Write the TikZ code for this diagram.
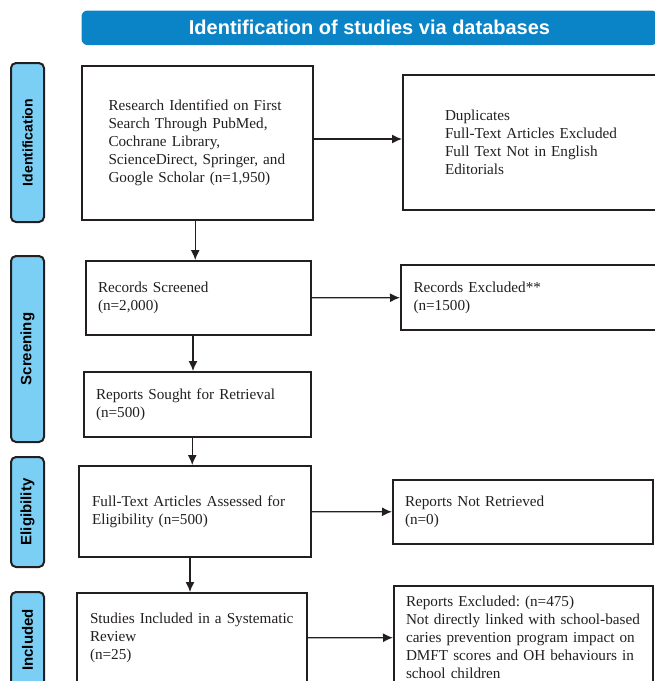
\documentclass[tikz,border=0pt]{standalone}
\usepackage{fontspec}
\setmainfont{Liberation Serif}
\newfontfamily\headfont{Liberation Sans}
\usetikzlibrary{arrows.meta}
\pgfdeclarelayer{bg}
\pgfsetlayers{bg,main}
\definecolor{hdrblue}{RGB}{10,132,198}
\definecolor{tabblue}{RGB}{123,207,244}
\definecolor{ink}{RGB}{35,31,32}
\frenchspacing
\tikzset{
  box/.style={draw=ink, line width=2pt, text=ink, align=left, inner ysep=0pt,
    font=\fontsize{15.2}{18}\selectfont},
  tab/.style={draw=ink, fill=tabblue, line width=2pt, rounded corners=5pt,
    rotate=90, minimum height=33pt, inner sep=0pt,
    font=\headfont\bfseries\fontsize{15}{18}\selectfont},
  arr/.style={line width=1.3pt, draw=ink, -{Latex[length=10pt,width=9pt]}}
}
\begin{document}
\begin{tikzpicture}[x=1pt, y=-1pt]
        \useasboundingbox (0,0) rectangle (655,681);
        \node (hdr) [fill=hdrblue, rounded corners=6pt, minimum width=576pt, minimum height=34.5pt, text=white, font=\headfont\bfseries\fontsize{20}{24}\selectfont] at (369.5, 27.75) {Identification of studies via databases};
        % phase tabs
        \node (tident) [tab, minimum width=159pt, font=\headfont\bfseries\fontsize{14}{18}\selectfont] at (27.5, 142.5) {Identification};
        \node (tscreen) [tab, minimum width=186pt] at (27.5, 349) {Screening};
        \node (telig) [tab, minimum width=110pt] at (27.5, 512) {Eligibility};
        \node (tincl) [tab, minimum width=96pt] at (27.5, 640) {Included};
        % main column
        \node (b1) [box, minimum width=231.5pt, minimum height=154pt, inner xsep=27pt, text width=177.5pt] at (197.25, 143) {Research Identified on First\\Search Through PubMed,\\Cochrane Library,\\ScienceDirect, Springer, and\\Google Scholar (n=1,950)};
        \node (b2) [box, minimum width=225pt, minimum height=74pt, inner xsep=12pt, text width=201pt] at (198.5, 298) {Records Screened\\(n=2,000)};
        \node (b3) [box, minimum width=227.5pt, minimum height=65pt, inner xsep=12.5pt, text width=202.5pt] at (197.25, 404.5) {Reports Sought for Retrieval\\(n=500)};
        \node (b4) [box, minimum width=232pt, minimum height=91pt, inner xsep=13pt, text width=206pt] at (195, 511.5) {Full-Text Articles Assessed for\\Eligibility (n=500)};
        \node (b5) [box, minimum width=230.5pt, minimum height=90pt, inner xsep=13.5pt, text width=203.5pt] at (191.75, 638) {Studies Included in a Systematic\\Review\\(n=25)};
        % excluded column
        \node (r1) [box, minimum width=277pt, minimum height=135pt, inner xsep=42pt, text width=193pt] at (541.5, 142.5) {Duplicates\\Full-Text Articles Excluded\\Full Text Not in English\\Editorials};
        \node (r2) [box, minimum width=279pt, minimum height=65pt, inner xsep=12.5pt, text width=254pt] at (540.5, 297.5) {Records Excluded**\\(n=1500)};
        \node (r4) [box, minimum width=260pt, minimum height=64pt, inner xsep=12pt, text width=236pt] at (523, 512) {Reports Not Retrieved\\(n=0)};
        \node (r5) [box, minimum width=259pt, minimum height=103pt, inner xsep=12pt, text width=235pt] at (523.5, 637.5) {Reports Excluded: (n=475)\\Not directly linked with school-based\\caries prevention program impact on\\DMFT scores and OH behaviours in\\school children};
        \begin{pgfonlayer}{bg}
                \draw ([yshift=4pt]b1.east) edge [arr] ([yshift=4pt]b1.east -| r1.west);
                \draw ([xshift=-2pt]b1.south) edge [arr] ([xshift=-2pt]b1.south |- b2.north);
                \draw (b2) edge [arr] (r2);
                \draw ([xshift=-5.5pt]b2.south) edge [arr] ([xshift=-5.5pt]b2.south |- b3.north);
                \draw ([xshift=-5pt]b3.south) edge [arr] ([xshift=-5pt]b3.south |- b4.north);
                \draw (b4) edge [arr] (r4);
                \draw ([xshift=-5pt]b4.south) edge [arr] ([xshift=-5pt]b4.south |- b5.north);
                \draw (b5) edge [arr] (r5);
        \end{pgfonlayer}
\end{tikzpicture}
\end{document}
